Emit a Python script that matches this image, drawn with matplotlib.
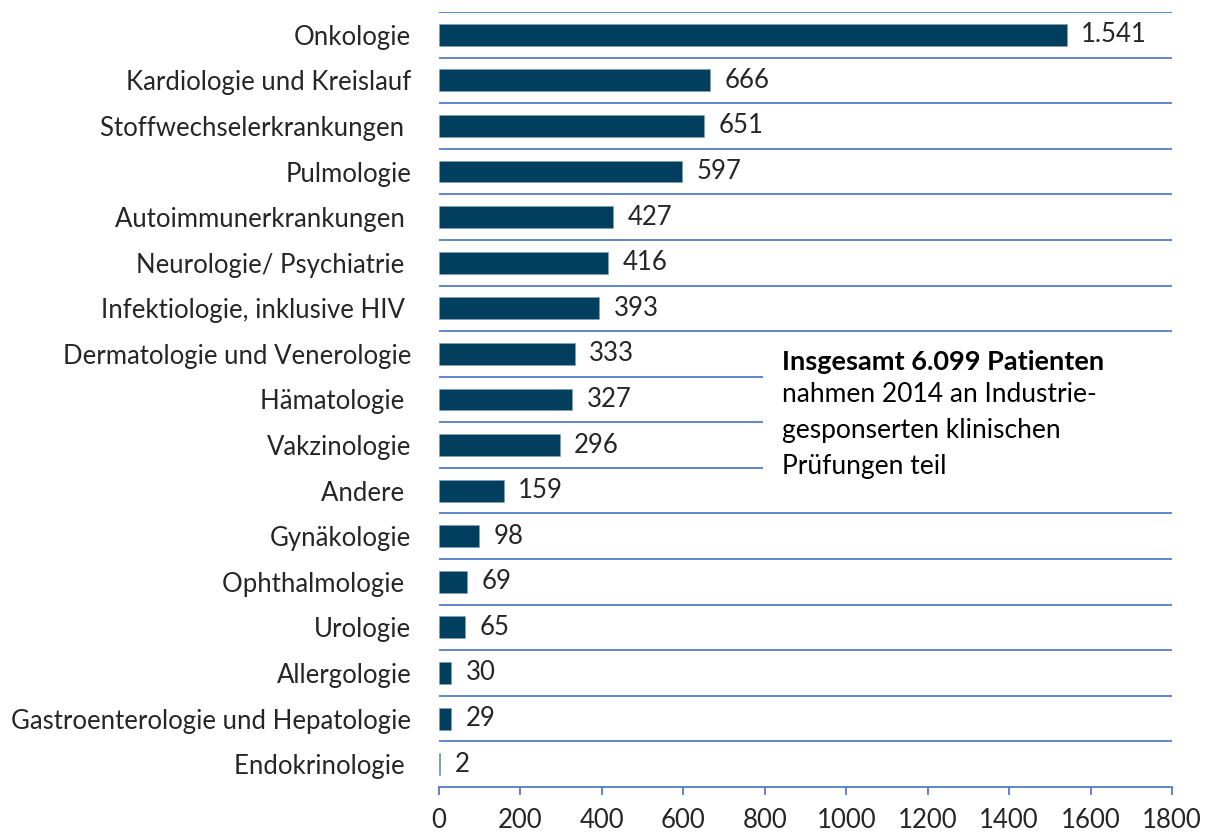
import matplotlib
matplotlib.use("Agg")
import matplotlib.pyplot as plt
from matplotlib.patches import Rectangle

# categories top to bottom, as in the reference
categories = ["Onkologie", "Kardiologie und Kreislauf", "Stoffwechselerkrankungen ",
              "Pulmologie", "Autoimmunerkrankungen ", "Neurologie/ Psychiatrie ",
              "Infektiologie, inklusive HIV ", "Dermatologie und Venerologie",
              "Hämatologie ", "Vakzinologie", "Andere ", "Gynäkologie",
              "Ophthalmologie ", "Urologie", "Allergologie",
              "Gastroenterologie und Hepatologie", "Endokrinologie "]
patients = [1541, 666, 651, 597, 427, 416, 393, 333, 327, 296, 159, 98, 69, 65, 30, 29, 2]
xticks = [0, 200, 400, 600, 800, 1000, 1200, 1400, 1600, 1800]

note_title = "Insgesamt 6.099 Patienten"
note_lines = ["nahmen 2014 an Industrie-", "gesponserten klinischen", "Prüfungen teil"]

bar_color = "#023E5E"
line_color = "#4472C4"
text_color = "#262626"

plt.rcParams['font.family'] = ['Lato', 'DejaVu Sans']
fs = 18.5

fig = plt.figure(figsize=(12.09, 8.34), dpi=100)
ax = fig.add_axes([0.3631, 0.0564, 0.9694 - 0.3631, 0.9856 - 0.0564])

ypos = list(range(len(categories)))
ax.barh(ypos, patients, height=0.48, color=bar_color, edgecolor="#7f9fb0", linewidth=0.4, zorder=3)

# value labels, German thousands separator
for y, v in zip(ypos, patients):
    lab = f"{v:,}".replace(",", ".")
    ax.annotate(lab, (v, y), xytext=(10.5, 0), textcoords="offset points",
                va="center", ha="left", fontsize=fs, color=text_color, zorder=4)

# horizontal lines between categories
for b in range(len(categories)):
    ax.axhline(b - 0.5, color=line_color, linewidth=1.2, zorder=1)

ax.set_ylim(len(categories) - 0.5, -0.5)
ax.set_xlim(0, 1800)
ax.set_yticks(ypos)
ax.set_yticklabels(categories, fontsize=fs, color=text_color)
ax.set_xticks(xticks)
ax.set_xticklabels([str(t) for t in xticks], fontsize=fs, color=text_color)
ax.tick_params(axis="y", length=0, pad=20)
ax.tick_params(axis="x", direction="out", length=6, width=1.2, color=line_color, pad=9)
for s in ["top", "right", "left"]:
    ax.spines[s].set_visible(False)
ax.spines["bottom"].set_color(line_color)
ax.spines["bottom"].set_linewidth(1.2)

# white box with the note, hides the lines behind it
ax.add_patch(Rectangle((796, 6.6), 1004, 3.8, facecolor="white", edgecolor="none", zorder=2))
ax.text(843, 7.17, note_title, fontsize=19.5, fontweight="bold",
        color="black", va="center", ha="left", zorder=4)
for i, line in enumerate(note_lines):
    ax.text(843, 7.9 + i * 0.78, line, fontsize=19,
            color="black", va="center", ha="left", zorder=4)

fig.savefig("out.png", dpi=100)
